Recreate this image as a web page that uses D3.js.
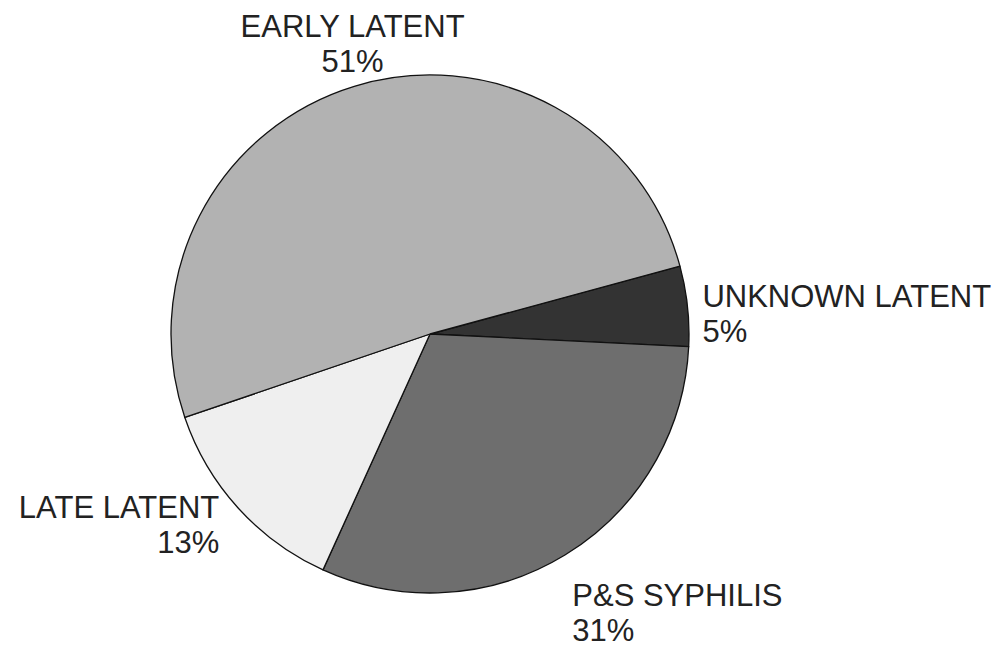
<!DOCTYPE html>
<html>
<head>
<meta charset="utf-8">
<script src="https://cdn.jsdelivr.net/npm/d3@7"></script>
<style>
  body { margin: 0; background: #fff; }
  text { font-family: "Liberation Sans", Arial, sans-serif; font-size: 31px; fill: #222; }
</style>
</head>
<body>
<div id="chart"></div>
<script>
var width = 998;
var height = 647;

// data, in drawing order (clockwise)
var categories = ["UNKNOWN LATENT", "P&S SYPHILIS", "LATE LATENT", "EARLY LATENT"];
var percents = [5, 31, 13, 51];

var colors = ["#333333", "#6e6e6e", "#efefef", "#b2b2b2"];

// label placement relative to the outer label point
var labelLayout = [
    { anchor: "start", dx: -1, dy: 3 },
    { anchor: "start", dx: -1, dy: 37 },
    { anchor: "end", dx: -7, dy: -1 },
    { anchor: "middle", dx: 3, dy: -34 }
];

var cx = 430, cy = 334, radius = 259;

var svg = d3.select("#chart")
    .append("svg")
    .attr("width", width)
    .attr("height", height);

var g = svg.append("g")
    .attr("transform", "translate(" + cx + "," + cy + ")");

var startAngle = 74.8 * Math.PI / 180;

var pie = d3.pie()
    .sort(null)
    .value(d => d)
    .startAngle(startAngle)
    .endAngle(startAngle + 2 * Math.PI);

var arc = d3.arc()
    .innerRadius(0)
    .outerRadius(radius);

var labelArc = d3.arc()
    .innerRadius(radius + 16)
    .outerRadius(radius + 16);

var arcs = pie(percents);

g.selectAll("path")
    .data(arcs)
    .join("path")
    .attr("d", arc)
    .attr("fill", (d, i) => colors[i])
    .attr("stroke", "#111")
    .attr("stroke-width", 1.3)
    .attr("stroke-linejoin", "round");

var labels = g.selectAll(".label")
    .data(arcs)
    .join("text")
    .attr("class", "label")
    .attr("text-anchor", (d, i) => labelLayout[i].anchor)
    .attr("transform", function (d, i) {
        var p = labelArc.centroid(d);
        return "translate(" + (p[0] + labelLayout[i].dx) + "," + (p[1] + labelLayout[i].dy) + ")";
    });

labels.append("tspan")
    .attr("x", 0)
    .attr("y", 0)
    .text((d, i) => categories[i]);

labels.append("tspan")
    .attr("x", 0)
    .attr("y", 35)
    .text((d, i) => percents[i] + "%");
</script>
</body>
</html>
